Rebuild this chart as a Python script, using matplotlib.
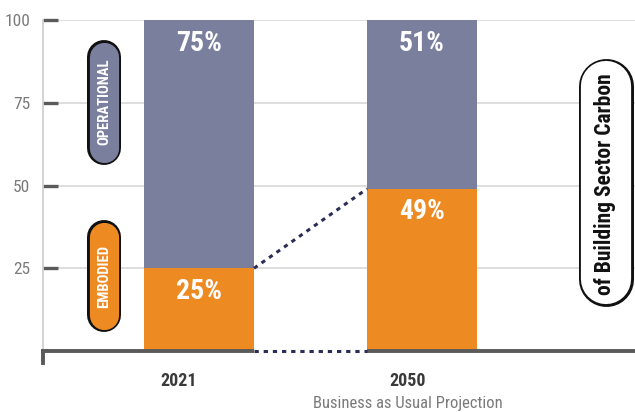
import matplotlib
matplotlib.use("Agg")
import matplotlib.pyplot as plt
from matplotlib import font_manager
from matplotlib.transforms import IdentityTransform, blended_transform_factory, offset_copy
from matplotlib.lines import Line2D

# data
years = ["2021", "2050"]
subtitles = ["", "Business as Usual Projection"]
embodied = [25, 49]
operational = [75, 51]
yticks = [25, 50, 75, 100]

# pick a narrow font if there is one
names = {f.name for f in font_manager.fontManager.ttflist}
font = "DejaVu Sans"
for cand in ["Liberation Sans Narrow", "Roboto Condensed", "Open Sans Condensed", "DejaVu Sans Condensed"]:
    if cand in names:
        font = cand
        break
plt.rcParams["font.family"] = [font, "DejaVu Sans"]

ORANGE = "#ee8a22"
SLATE = "#7b7f9e"
NAVY = "#2b2d55"

W, H = 635, 412
fig = plt.figure(figsize=(W / 100, H / 100), dpi=100)
ax = fig.add_axes([43 / W, 61 / H, 592 / W, 331 / H])

x = [0, 1]
bw = 0.493
ax.bar(x, embodied, width=bw, color=ORANGE, zorder=2)
ax.bar(x, operational, width=bw, bottom=embodied, color=SLATE, zorder=2)

ax.set_xlim(-0.70, 1.955)
ax.set_ylim(0, 100)

# gridlines
ax.set_yticks(yticks)
ax.set_yticklabels([str(t) for t in yticks])
ax.yaxis.grid(True, color="#d8d8d8", lw=1.2, zorder=0)
ax.set_axisbelow(True)
ax.tick_params(axis="y", direction="in", length=11, width=2.4, color="#5a5a5a",
               labelsize=12.5, labelcolor="#7a7a7a", pad=9)
ax.set_xticks([])

for s in ["top", "right"]:
    ax.spines[s].set_visible(False)
ax.spines["left"].set_color("#cccccc")
ax.spines["left"].set_linewidth(1.2)
ax.spines["bottom"].set_color("#5a5a5a")
ax.spines["bottom"].set_linewidth(2.8)
ax.add_line(Line2D([0, 0], [0, -0.035], transform=ax.transAxes, color="#5a5a5a",
                   lw=2.8, clip_on=False))

# dotted connectors (the axis line is broken between the bars)
gap = [x[0] + bw / 2, x[1] - bw / 2]
ax.plot(gap, [0, 0], color="white", lw=4, zorder=3, clip_on=False,
        solid_capstyle="butt")
dots = dict(color=NAVY, lw=2.2, ls=(0, (1.4, 1.6)), zorder=4, clip_on=False,
            dash_capstyle="butt")
ax.plot(gap, [embodied[0], embodied[1]], **dots)
ax.plot(gap, [0, 0], **dots)

# percent labels
for i in range(2):
    ax.text(x[i], embodied[i] - 7, f"{embodied[i]}%", ha="center", va="center",
            color="white", fontsize=20, fontweight="bold", zorder=5)
    ax.text(x[i], 100 - 7, f"{operational[i]}%", ha="center", va="center",
            color="white", fontsize=20, fontweight="bold", zorder=5)

# x labels
trans = blended_transform_factory(ax.transData, ax.transAxes)
label_shift = [-20, -14]
for i in range(2):
    t = offset_copy(trans, fig=fig, x=label_shift[i], y=0, units="dots")
    ax.text(x[i], -0.09, years[i], transform=t, ha="center", va="center",
            fontsize=13, fontweight="bold", color="#3a3a3a")
    if subtitles[i]:
        ax.text(x[i], -0.158, subtitles[i], transform=t, ha="center", va="center",
                fontsize=12, color="#7a7a7a")


def pill(left, top, w, h, fc, lw=2.4):
    # a thick line with round caps gives a capsule; border = darker line underneath
    cx = left + w / 2
    y0, y1 = H - top - w / 2, H - top - h + w / 2
    pt = 72 / 100
    fig.add_artist(Line2D([cx, cx], [y0, y1], transform=IdentityTransform(),
                          color="#111111", lw=w * pt, solid_capstyle="round", zorder=5))
    fig.add_artist(Line2D([cx, cx], [y0, y1], transform=IdentityTransform(),
                          color=fc, lw=(w - 2 * lw) * pt, solid_capstyle="round", zorder=5))


pill(87, 40, 34, 125, SLATE)
fig.text(104 / W, 1 - 102 / H, "OPERATIONAL", rotation=90, ha="center", va="center",
         color="white", fontsize=10.5, fontweight="bold", zorder=6)
pill(87, 220, 34, 112, ORANGE)
fig.text(104 / W, 1 - 276 / H, "EMBODIED", rotation=90, ha="center", va="center",
         color="white", fontsize=10.5, fontweight="bold", zorder=6)

pill(578, 58, 55, 248, "white")
fig.text(605.5 / W, 1 - 184 / H, "of Building Sector Carbon", rotation=90, ha="center",
         va="center", color="#111111", fontsize=15.5, fontweight="bold", zorder=6)

fig.savefig("out.png", dpi=100)
